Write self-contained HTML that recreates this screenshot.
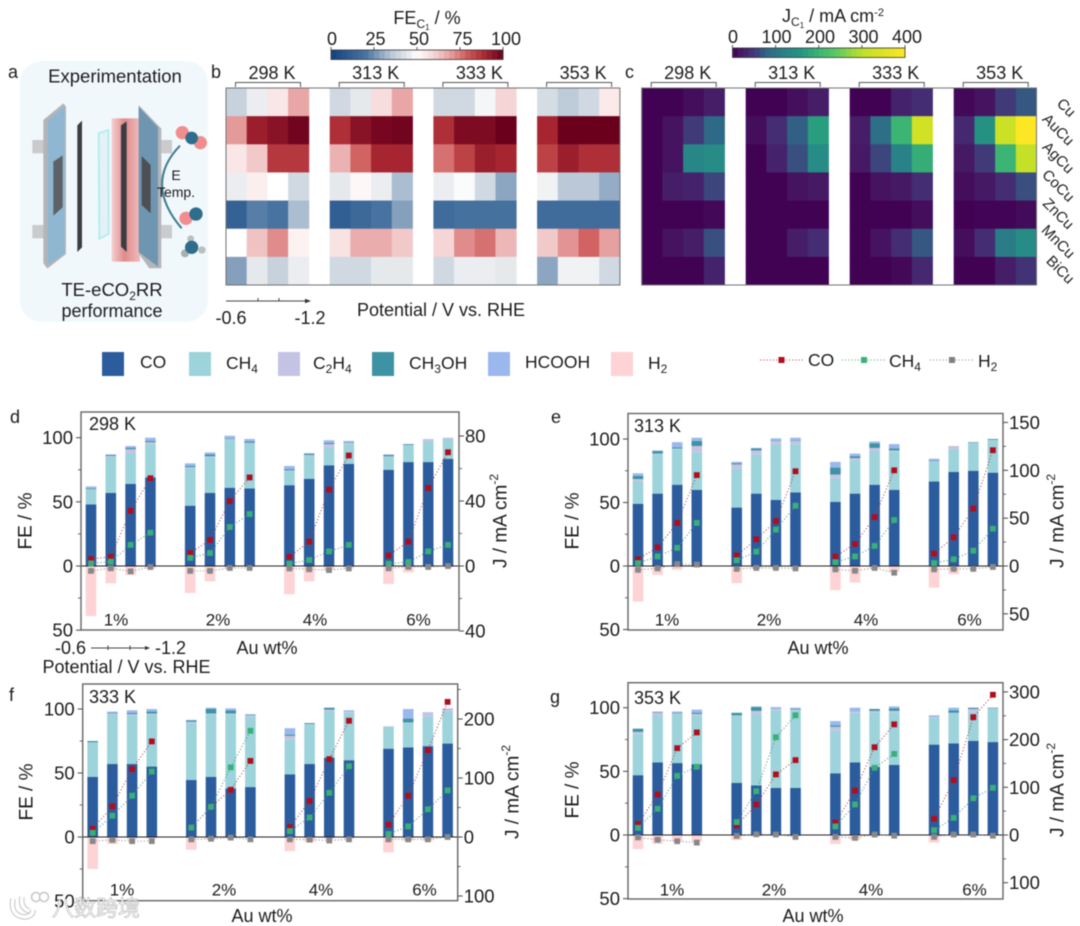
<!DOCTYPE html>
<html lang="en">
<head>
<meta charset="utf-8">
<title>Thermally enhanced CO2 electroreduction figure</title>
<style>
html,body{margin:0;padding:0;background:#fff;width:1080px;height:926px;overflow:hidden}
svg{display:block;font-family:"Liberation Sans","Noto Sans CJK SC",sans-serif;fill:#222;filter:blur(0.45px)}
text{fill:#1c1c1c}
</style>
</head>
<body>
<svg id="fig" xmlns="http://www.w3.org/2000/svg" width="1080" height="926" viewBox="0 0 1080 926">
  <rect x="0" y="0" width="1080" height="926" fill="#fff"/>

  <!-- panel a -->
  <g>
    <rect x="20" y="61" width="188" height="261" rx="22" fill="#f1f8fc"/>
    <g transform="translate(0,50) scale(0.3333)">
      <defs>
        <linearGradient id="glow" x1="0" x2="1" y1="0" y2="0">
          <stop offset="0" stop-color="#f5d0d0"/><stop offset="0.45" stop-color="#df8b8b"/><stop offset="1" stop-color="#f0bcbc"/>
        </linearGradient>
      </defs>
      <rect x="97" y="270" width="36" height="40" fill="#c9cbcd"/>
      <rect x="97" y="525" width="36" height="40" fill="#c9cbcd"/>
      <polygon points="130,210 190,160 198,170 198,612 142,656 130,640" fill="#b3b5b7"/>
      <polygon points="143,212 194,170 194,610 143,645" fill="#8fb7d2"/>
      <polygon points="160,335 188,316 188,472 160,497" fill="#5c6268"/>
      <polygon points="232,226 246,212 246,592 232,606" fill="#3a3d42"/>
      <polygon points="296,250 325,240 326,552 298,566" fill="#e4f1f6" stroke="#b5eef2" stroke-width="6"/>
      <rect x="335" y="205" width="85" height="430" fill="url(#glow)"/>
      <polygon points="363,226 380,214 380,606 363,590" fill="#3a3d42"/>
      <rect x="484" y="270" width="32" height="40" fill="#c9cbcd"/>
      <rect x="484" y="525" width="32" height="40" fill="#c9cbcd"/>
      <polygon points="416,165 484,236 484,655 448,655 416,610" fill="#b3b5b7"/>
      <polygon points="416,170 474,232 474,650 416,606" fill="#6f96b0"/>
      <polygon points="425,318 452,345 452,490 425,465" fill="#4c5055"/>
      <path d="M540,287 Q430,400 545,535" fill="none" stroke="#3f7c94" stroke-width="6"/>
      <g>
        <circle cx="547" cy="248" r="20" fill="#f28d8f"/>
        <circle cx="601" cy="278" r="20" fill="#f28d8f"/>
        <circle cx="575" cy="264" r="19" fill="#2f6d8c"/>
      </g>
      <g>
        <circle cx="558" cy="505" r="20" fill="#f28d8f"/>
        <circle cx="588" cy="492" r="20" fill="#2f6d8c"/>
      </g>
      <g>
        <circle cx="555" cy="610" r="12" fill="#a6b0ae"/>
        <circle cx="606" cy="600" r="11" fill="#b8bfbc"/>
        <circle cx="572" cy="566" r="10" fill="#b8bfbc"/>
        <circle cx="575" cy="592" r="20" fill="#2f6d8c"/>
      </g>
    </g>
    <text x="176" y="175" font-size="14" text-anchor="middle" dominant-baseline="central">E</text>
    <text x="176" y="192" font-size="14" text-anchor="middle" dominant-baseline="central">Temp.</text>
    <text x="115" y="76" font-size="18.5" text-anchor="middle" dominant-baseline="central">Experimentation</text>
    <text x="112" y="296" font-size="18.5" text-anchor="middle">TE-eCO<tspan font-size="12" dy="4">2</tspan><tspan dy="-4">RR</tspan></text>
    <text x="112" y="311" font-size="18" text-anchor="middle" dominant-baseline="central">performance</text>
  </g>

  <text x="8" y="72" font-size="18" dominant-baseline="central">a</text>
  <text x="211" y="72" font-size="18" dominant-baseline="central">b</text>
  <text x="625" y="72" font-size="18" dominant-baseline="central">c</text>
  <text x="10" y="417" font-size="18" dominant-baseline="central">d</text>
  <text x="551" y="417" font-size="18" dominant-baseline="central">e</text>
  <text x="9" y="695" font-size="18" dominant-baseline="central">f</text>
  <text x="550" y="697" font-size="18" dominant-baseline="central">g</text>

  <!-- heatmap titles -->
  <text x="427" y="24" font-size="18" text-anchor="middle">FE<tspan font-size="12" dy="4">C</tspan><tspan font-size="8" dy="2">1</tspan><tspan dy="-6"> / %</tspan></text>
  <text x="833" y="22" font-size="18" text-anchor="middle">J<tspan font-size="12" dy="4">C</tspan><tspan font-size="8" dy="2">1</tspan><tspan dy="-6"> / mA cm</tspan><tspan font-size="11" dy="-6">-2</tspan></text>

  <!-- b axis hint -->
  <g>
    <line x1="226" y1="301" x2="306" y2="301" stroke="#444" stroke-width="1"/>
    <polygon points="305,298.8 311,301 305,303.2" fill="#333"/>
    <line x1="258" y1="298" x2="258" y2="301" stroke="#444"/>
    <line x1="279" y1="298" x2="279" y2="301" stroke="#444"/>
    <text x="231" y="318" font-size="18" text-anchor="middle" dominant-baseline="central">-0.6</text>
    <text x="310" y="318" font-size="18" text-anchor="middle" dominant-baseline="central">-1.2</text>
    <text x="441" y="310" font-size="18" text-anchor="middle" dominant-baseline="central">Potential / V vs. RHE</text>
  </g>

  <!-- legend -->
  <g>
    <g>
      <rect x="102" y="352" width="22" height="24" fill="#2b5c9e"/>
      <text x="140" y="362" font-size="17.5" dominant-baseline="central">CO</text>
    </g>
    <g>
      <rect x="189" y="352" width="22" height="24" fill="#9dd3da"/>
      <text x="226" y="369" font-size="17.5">CH<tspan font-size="12" dy="4">4</tspan></text>
    </g>
    <g>
      <rect x="278" y="352" width="22" height="24" fill="#c5c3e3"/>
      <text x="313" y="369" font-size="17.5">C<tspan font-size="12" dy="4">2</tspan><tspan dy="-4">H</tspan><tspan font-size="12" dy="4">4</tspan></text>
    </g>
    <g>
      <rect x="372" y="352" width="22" height="24" fill="#3d93a3"/>
      <text x="409" y="369" font-size="17.5">CH<tspan font-size="12" dy="4">3</tspan><tspan dy="-4">OH</tspan></text>
    </g>
    <g>
      <rect x="488" y="352" width="22" height="24" fill="#9ab8ee"/>
      <text x="525" y="362" font-size="17.5" dominant-baseline="central">HCOOH</text>
    </g>
    <g>
      <rect x="611" y="352" width="22" height="24" fill="#fdd3d5"/>
      <text x="648" y="369" font-size="17.5">H<tspan font-size="12" dy="4">2</tspan></text>
    </g>
  </g>
  <g>
    <g>
      <line x1="760" y1="360" x2="803" y2="360" stroke="#b53a45" stroke-width="1.1" stroke-dasharray="1 2.2"/>
      <rect x="778.5" y="357" width="6" height="6" fill="#b00d1f"/>
      <text x="808" y="360" font-size="17.5" dominant-baseline="central">CO</text>
    </g>
    <g>
      <line x1="842" y1="360" x2="885" y2="360" stroke="#3aaf7a" stroke-width="1.1" stroke-dasharray="1 2.2"/>
      <rect x="861" y="357" width="6" height="6" fill="#3aaf7a"/>
      <text x="889" y="367" font-size="17.5">CH<tspan font-size="12" dy="4">4</tspan></text>
    </g>
    <g>
      <line x1="930" y1="360" x2="973" y2="360" stroke="#888" stroke-width="1.1" stroke-dasharray="1 2.2"/>
      <rect x="949" y="357" width="6" height="6" fill="#808080"/>
      <text x="978" y="367" font-size="17.5">H<tspan font-size="12" dy="4">2</tspan></text>
    </g>
  </g>

  <g id="heatB"></g>
  <g id="heatC"></g>
  <g id="barD"></g>
  <g id="barE"></g>
  <g id="barF"></g>
  <g id="barG"></g>

  <!-- potential hint under d -->
  <g>
    <text x="70.5" y="648" font-size="18" text-anchor="middle" dominant-baseline="central">-0.6</text>
    <line x1="91" y1="648" x2="146" y2="648" stroke="#444"/>
    <polygon points="145,646 150,648 145,650" fill="#333"/>
    <line x1="108" y1="645.5" x2="108" y2="650" stroke="#444"/>
    <line x1="130" y1="645.5" x2="130" y2="650" stroke="#444"/>
    <text x="170.5" y="648" font-size="18" text-anchor="middle" dominant-baseline="central">-1.2</text>
    <text x="126.5" y="667" font-size="18" text-anchor="middle" dominant-baseline="central">Potential / V vs. RHE</text>
  </g>

  <!-- watermark -->
  <g>
    <path d="M13,899 Q10,916 25,917 Q33,916 33,910 M22,897 Q20,908 29,911" fill="none" stroke="#c4c4c4" stroke-width="5.5"/>
    <path d="M13,899 Q10,916 25,917 Q33,916 33,910 M22,897 Q20,908 29,911" fill="none" stroke="#fff" stroke-width="3.5"/>
    <circle cx="36" cy="897" r="4.5" fill="#fff" stroke="#c8c8c8" stroke-width="1.6"/>
    <circle cx="44" cy="897" r="4.5" fill="#fff" stroke="#c8c8c8" stroke-width="1.6"/>
    <text x="52" y="916" font-size="22" style="fill:#fff;stroke:#bdbdbd;stroke-width:0.7px;font-family:'Noto Sans CJK SC',sans-serif">八数跨境</text>
  </g>
</svg>

<script>
/* ---------- Heatmap b : FE of C1 products (%) ---------- */
const alloyLabels = ["Cu","AuCu","AgCu","CoCu","ZnCu","MnCu","BiCu"];
const temperatureLabels = ["298 K","313 K","333 K","353 K"];
const feTickLabels = ["0","25","50","75","100"];
const jTickLabels = ["0","100","200","300","400"];
const feCu   = [38,46,56,68, 40,45,58,68, 40,40,48,60, 41,36,40,55];
const feAuCu = [70,92,95,99, 88,95,98,99, 88,97,97,100, 90,100,100,100];
const feAgCu = [56,62,86,86, 66,78,90,90, 76,84,92,90, 84,92,88,88];
const feCoCu = [46,54,50,40, 45,52,46,33, 46,49,40,29, 47,35,35,30];
const feZnCu = [13,22,20,33, 12,16,20,28, 17,19,19,19, 17,17,17,17];
const feMnCu = [50,63,72,53, 57,67,67,62, 60,72,76,65, 62,71,78,69];
const feBiCu = [28,45,38,46, 40,40,45,45, 40,46,46,45, 29,47,47,40];

/* ---------- Heatmap c : J of C1 products (mA cm-2) ---------- */
const jCu   = [0,0,10,25, 0,0,12,25, 0,0,30,40, 5,15,50,70];
const jAuCu = [0,15,50,80, 10,40,75,170, 25,90,200,330, 35,150,320,400];
const jAgCu = [0,15,130,140, 0,30,65,140, 20,60,120,190, 20,50,200,310];
const jCoCu = [0,25,30,60, 0,0,15,20, 0,15,20,40, 10,20,40,65];
const jZnCu = [0,0,0,5, 0,0,0,0, 0,0,0,10, 0,2,2,8];
const jMnCu = [0,15,25,65, 0,0,25,40, 0,15,40,70, 10,40,110,140];
const jBiCu = [0,0,0,30, 0,0,0,0, 0,0,5,35, 0,0,25,45];

/* ---------- Panel d : 298 K ---------- */
const dCO    = [48,57,64,69, 47,57,61,60.5, 63,68,78.5,79.5, 75,81,81,83.6];
const dCH4   = [11.5,28,24,26, 29.5,27.5,37.5,35, 11,18,13.5,15.5, 10,13,16,15.4];
const dC2H4  = [0.3,0.8,3,1.5, 0.5,1,0.5,0.5, 0.5,0.5,3,1, 0.5,0.3,1.8,1];
const dCH3OH = [0.7,0.7,1,1, 1,1.5,0.5,1, 1,1,1,0.5, 1,0.7,0,0];
const dHCOOH = [1.5,0.5,1.5,2.5, 2,1.5,2,2, 2.5,0.5,2,1, 0.5,0,0.2,0];
const dH2    = [39,13.5,7,2, 21,12,2,1, 22,12,3,2, 14,5,1,1];
const dJCO   = [4.3,5.7,34,54, 8,16,40,54.5, 5.7,15,47,68, 6.5,15,48,70];
const dJCH4  = [1.6,2.7,13,20.5, 5,8,24,32, 1.4,3.7,9,13, 1.4,2.5,9,13];
const dJH2   = [3,1.4,3.3,0.6, 3,3,1.2,1.2, 1.5,2,2.5,1.5, 1.4,0.6,0.6,0];

/* ---------- Panel e : 313 K ---------- */
const eCO    = [49,57,64,60, 46,57,52,58, 50.5,57,64,60, 66.5,74,75,73.5];
const eCH4   = [18,31,28,29.5, 30.5,31,44,38, 18.5,26,26.5,30, 15.5,18,21.5,25.5];
const eC2H4  = [1.5,0.5,0.5,5, 3.5,3,2.5,2.5, 3,2,2.5,1, 0.5,2.5,0.5,0.3];
const eCH3OH = [2.5,2,1,4, 1,1.5,0.5,0.5, 5.5,1.5,3.5,1.5, 0.5,0,0.5,0.7];
const eHCOOH = [2,0.5,4,2.5, 1,0.5,1.5,2, 4.5,2,1.5,3.5, 1.5,0,0,0];
const eH2    = [28,7,3,1, 13.5,2,1,1, 19,13,2,4.5, 17,6.5,1,0.5];
const eJCO   = [7,19.5,45,95, 11,28,47,99, 10,23,51,100, 13,30,60,121];
const eJCH4  = [3,10,19,45, 6,15,38,63, 4,10,21,48, 3,7,16,39];
const eJH2   = [4,2.5,-2,-1.5, 3,2,2,2.5, 3.5,5,2,7, 3.5,3,3,1];

/* ---------- Panel f : 333 K ---------- */
const fCO    = [47,57,57,55, 44.5,47,38,39, 49,57,62,60, 69,70,71,73];
const fCH4   = [27,39,38,41, 44.5,49,58,55, 27,31,36,37, 17,19,23,25];
const fC2H4  = [0,0.5,1,0.5, 1,0.5,0.5,1, 3,0.3,1.5,1, 0.5,0.5,3,2];
const fCH3OH = [1,0.5,1,1.5, 1,3.5,2.5,0.5, 1,0.7,1.5,0, 0,3,0,0];
const fHCOOH = [0,1,2,2, 0.5,1,1.5,0.5, 5,0,0,1, 0,7.5,0.5,0.5];
const fH2    = [25,5.5,2,1.5, 10,2,1,1, 11,4,1.5,1.5, 12,3,3,0.5];
const fJCO   = [14,52,115,162, 16,51,80,129, 17,61,132,197, 21,70,147,229];
const fJCH4  = [7,36,70,111, 16,51,118,180, 10,33,75,120, 5,18,47,79];
const fJH2   = [7,5,7,7, 4,3,1,4, 4,4.5,6,4, 4,4,4,0];

/* ---------- Panel g : 353 K ---------- */
const gCO    = [47,57,56.5,55.6, 41,39,37,37, 48.5,57,53.5,55, 71,72,74,73];
const gCH4   = [32.5,36.5,38.5,38, 52.5,56,61,61, 33.5,39,43,41.5, 21,23.5,22.5,26];
const gC2H4  = [1.5,2.5,0.5,1.5, 0.5,2.5,1,0.5, 3,1,1,1, 0.5,0.5,2.5,0.5];
const gCH3OH = [2.5,0.5,0.5,1, 2,3,0,0.5, 1,0,1.5,2, 0,2,1,0.5];
const gHCOOH = [0,0.5,1,2.4, 0,0.5,1.5,1, 3.5,3,0,1.5, 1.5,2,0,0];
const gH2    = [11,7,5,5, 4,1,0.5,1, 7,4,1,1, 6,1,1,0.5];
const gJCO   = [23,85,182,215, 20,64,127,157, 26,93,184,232, 34,115,247,294];
const gJCH4  = [15,55,124,143, 27,92,205,251, 18,64,141,170, 10,36,77,99];
const gJH2   = [5,10,13,16, 2,-1.5,-1,4, 4,6,-1,1.5, 4,-1,-1,1.5];

const groupLabels = ["1%","2%","4%","6%"];
const NS = "http://www.w3.org/2000/svg";

function make(parent, tag, attrs, text){
  const el = document.createElementNS(NS, tag);
  for (const k in attrs) el.setAttribute(k, attrs[k]);
  if (text !== undefined) el.textContent = text;
  parent.appendChild(el);
  return el;
}
function lerpStops(stops, t){
  t = Math.max(0, Math.min(1, t));
  for (let i = 1; i < stops.length; i++){
    if (t <= stops[i][0]){
      const a = stops[i-1], b = stops[i], f = (t - a[0]) / (b[0] - a[0]);
      return "rgb(" + [1,2,3].map(c => Math.round(a[c] + (b[c]-a[c]) * f)).join(",") + ")";
    }
  }
  const l = stops[stops.length-1];
  return "rgb(" + l[1] + "," + l[2] + "," + l[3] + ")";
}
const redBlue = [[0,18,66,127],[0.2,72,115,160],[0.35,186,200,215],[0.45,230,233,236],[0.5,255,255,255],[0.6,245,213,213],[0.7,229,154,154],[0.8,204,85,85],[0.9,166,37,48],[1,107,0,28]];
const viridis = [[0,66,2,84],[0.05,70,25,100],[0.1,68,45,115],[0.15,60,70,125],[0.2,46,105,135],[0.3,40,130,135],[0.4,35,150,130],[0.5,60,180,115],[0.6,90,200,100],[0.75,190,225,40],[0.85,215,225,35],[1,253,231,37]];

function drawHeatmap(g, rows, maxValue, stops, left, groupGap){
  const top = 88, rowH = 197 / 7, cellW = 20.7;
  const xCell = c => left + Math.floor(c / 4) * groupGap + (c % 4) * cellW;
  rows.forEach((row, r) => {
    row.forEach((v, c) => {
      const cell = make(g, "rect", {x: xCell(c), y: top + r * rowH, width: cellW + 0.4, height: rowH + 0.4, fill: lerpStops(stops, v / maxValue)});
      
      
    });
  });
  const right = xCell(15) + cellW;
  const frame = make(g, "rect", {x: left, y: top, width: right - left, height: 197, fill: "none", stroke: "#6f7175", "stroke-width": 1});
  
  
  temperatureLabels.forEach((label, i) => {
    const x0 = xCell(i * 4) + 9.5, x1 = x0 + 65;
    const br = make(g, "path", {d: "M" + x0 + ",87 V82.5 H" + x1 + " V87", fill: "none", stroke: "#555", "stroke-width": 1});
    
    
    const t = make(g, "text", {x: (x0 + x1) / 2 + 4, y: 73, "font-size": 18, "text-anchor": "middle", "dominant-baseline": "central"}, label);
    
    
  });
}
function drawColorbar(g, x0, x1, y, h, stops, labels, labelY, labelXs){
  const steps = 32, w = (x1 - x0) / steps;
  for (let i = 0; i < steps; i++){
    const s = make(g, "rect", {x: x0 + i * w, y: y, width: w + 0.4, height: h, fill: lerpStops(stops, (i + 0.5) / steps)});
    
    
  }
  const fr = make(g, "rect", {x: x0, y: y, width: x1 - x0, height: h, fill: "none", stroke: "#333", "stroke-width": 0.8});
  
  
  labels.forEach((label, i) => {
    const x = x0 + (x1 - x0) * i / (labels.length - 1);
    const tk = make(g, "line", {x1: x, x2: x, y1: y - 3, y2: y, stroke: "#333", "stroke-width": 0.8});
    
    
    const t = make(g, "text", {x: labelXs(i), y: labelY, "font-size": 18, "text-anchor": "middle", "dominant-baseline": "central"}, label);
    
    
  });
}

const heatB = document.getElementById("heatB");
const heatC = document.getElementById("heatC");
drawHeatmap(heatB, [feCu,feAuCu,feAgCu,feCoCu,feZnCu,feMnCu,feBiCu], 100, redBlue, 226, 103.7);
drawHeatmap(heatC, [jCu,jAuCu,jAgCu,jCoCu,jZnCu,jMnCu,jBiCu], 400, viridis, 641.7, 104);
drawColorbar(heatB, 331, 503, 50, 9.5, redBlue, feTickLabels, 39, i => 332 + i * 43.5);
drawColorbar(heatC, 732.5, 905, 48, 9.5, viridis, jTickLabels, 37, i => 733 + i * 43.5);
alloyLabels.forEach((label, r) => {
  const cx = r === 0 ? 1066 : (r === 6 ? 1060 : 1058);
  const cy = r === 0 ? 108 : 130 + (r - 1) * 28;
  const t = make(heatC, "text", {x: cx, y: cy, "font-size": 15, "text-anchor": "middle", "dominant-baseline": "central", transform: "rotate(45 " + cx + " " + cy + ")"}, label);
  
  
});

/* ---------- stacked-bar panels ---------- */
const stackColors = ["#2b5c9e","#9dd3da","#c5c3e3","#3d93a3","#9ab8ee"];

function drawPanel(g, cfg){
  const yFE = v => cfg.zero - v * cfg.fePx;
  const yJ = v => cfg.zero - v * cfg.jPx;
  const xBar = i => cfg.x0 + Math.floor(i / 4) * cfg.groupStep + (i % 4) * cfg.barStep;
  const barW = 10.6;
  const labelOffsets = [0, 102, 199, 302.5];

  cfg.stacks[0].forEach((_, i) => {
    let base = 0;
    cfg.stacks.forEach((series, s) => {
      const v = series[i];
      if (v <= 0) return;
      const seg = make(g, "rect", {x: xBar(i) - barW / 2, y: yFE(base + v), width: barW, height: v * cfg.fePx, fill: stackColors[s]});
      
      
      base += v;
    });
    const h2 = make(g, "rect", {x: xBar(i) - barW / 2, y: cfg.zero, width: barW, height: cfg.h2[i] * cfg.fePx, fill: "#fdd3d5"});
    
    
  });

  const zeroLine = make(g, "line", {x1: cfg.left, x2: cfg.right, y1: cfg.zero, y2: cfg.zero, stroke: "#222", "stroke-width": 1.1});
  
  

  const frame = make(g, "rect", {x: cfg.left, y: cfg.top, width: cfg.right - cfg.left, height: cfg.bottom - cfg.top, fill: "none", stroke: "#666", "stroke-width": 1.4});
  
  

  const lineSets = [
    {vals: cfg.jCO, color: "#b00d1f", lineColor: "#a8404c", sign: 1},
    {vals: cfg.jCH4, color: "#3aaf7a", lineColor: "#4a9a78", sign: 1},
    {vals: cfg.jH2, color: "#888888", lineColor: "#8a8a8a", sign: -1}
  ];
  lineSets.forEach(set => {
    for (let gi = 0; gi < 4; gi++){
      const pts = [0,1,2,3].map(b => xBar(gi * 4 + b) + "," + yJ(set.sign * set.vals[gi * 4 + b])).join(" ");
      const line = make(g, "polyline", {points: pts, fill: "none", stroke: set.lineColor, "stroke-width": 1.1, "stroke-dasharray": "1 2.2"});
      
      
    }
    set.vals.forEach((v, i) => {
      const m = make(g, "rect", {x: xBar(i) - 2.9, y: yJ(set.sign * v) - 2.9, width: 5.8, height: 5.8, fill: set.color});
      
      
    });
  });

  cfg.leftTicks.forEach(v => {
    const tk = make(g, "line", {x1: cfg.left - 5, x2: cfg.left, y1: yFE(v), y2: yFE(v), stroke: "#555", "stroke-width": 1.1});
    
    
    const t = make(g, "text", {x: cfg.left - 8, y: yFE(v), "font-size": 18.5, "text-anchor": "end", "dominant-baseline": "central"}, String(Math.abs(v)));
    
    
  });
  cfg.leftMinor.forEach(v => {
    const tk = make(g, "line", {x1: cfg.left - 3, x2: cfg.left, y1: yFE(v), y2: yFE(v), stroke: "#555", "stroke-width": 0.9});
    
    
  });
  cfg.rightTicks.forEach(v => {
    const tk = make(g, "line", {x1: cfg.right, x2: cfg.right + 5, y1: yJ(v), y2: yJ(v), stroke: "#555", "stroke-width": 1.1});
    
    
    const t = make(g, "text", {x: cfg.right + 6, y: yJ(v), "font-size": 18.5, "dominant-baseline": "central"}, String(Math.abs(v)));
    
    
  });
  cfg.rightMinor.forEach(v => {
    const tk = make(g, "line", {x1: cfg.right, x2: cfg.right + 3, y1: yJ(v), y2: yJ(v), stroke: "#555", "stroke-width": 0.9});
    
    
  });

  const tempLabel = make(g, "text", {x: cfg.tempX, y: cfg.tempY, "font-size": 18, "dominant-baseline": "central"}, cfg.temp);
  
  

  groupLabels.forEach((label, i) => {
    const t = make(g, "text", {x: cfg.groupX + labelOffsets[i], y: cfg.groupY, "font-size": 17, "text-anchor": "middle", "dominant-baseline": "central"}, label);
    
    
  });

  const xTitle = make(g, "text", {x: cfg.xTitleX, y: cfg.xTitleY, "font-size": 18, "text-anchor": "middle", "dominant-baseline": "central"}, "Au wt%");
  
  

  const feTitle = make(g, "text", {x: cfg.feX, y: cfg.feY, "font-size": 19, "text-anchor": "middle", "dominant-baseline": "central", transform: "rotate(-90 " + cfg.feX + " " + cfg.feY + ")"}, "FE / %");
  
  

  const jTitle = make(g, "text", {x: cfg.jX, y: cfg.feY, "font-size": 19, "text-anchor": "middle", "dominant-baseline": "central", transform: "rotate(-90 " + cfg.jX + " " + cfg.feY + ")"}, "J / mA cm");
  
  
  const sup = make(jTitle, "tspan", {"font-size": 12, dy: -7}, "-2");
  
  
}

drawPanel(document.getElementById("barD"), {
  left: 81, right: 459, top: 412, bottom: 630, zero: 566, fePx: 1.283, jPx: 1.625,
  x0: 91, groupStep: 99.2, barStep: 19.8,
  stacks: [dCO,dCH4,dC2H4,dCH3OH,dHCOOH], h2: dH2, jCO: dJCO, jCH4: dJCH4, jH2: dJH2,
  leftTicks: [100,50,0,-50], leftMinor: [75,25,-25],
  rightTicks: [80,40,0,-40], rightMinor: [60,20,-20],
  temp: "298 K", tempX: 89, tempY: 424, groupX: 116, groupY: 620,
  xTitleX: 267, xTitleY: 648, feX: 26, feY: 521, jX: 501
});
drawPanel(document.getElementById("barE"), {
  left: 628, right: 1003, top: 413.5, bottom: 630, zero: 566, fePx: 1.27, jPx: 0.957,
  x0: 638, groupStep: 98.7, barStep: 19.6,
  stacks: [eCO,eCH4,eC2H4,eCH3OH,eHCOOH], h2: eH2, jCO: eJCO, jCH4: eJCH4, jH2: eJH2,
  leftTicks: [100,50,0,-50], leftMinor: [75,25,-25],
  rightTicks: [150,100,50,0,-50], rightMinor: [125,75,25,-25],
  temp: "313 K", tempX: 634, tempY: 426, groupX: 667, groupY: 620,
  xTitleX: 818, xTitleY: 648, feX: 573, feY: 521, jX: 1058
});
drawPanel(document.getElementById("barF"), {
  left: 82.7, right: 457.7, top: 684, bottom: 900.7, zero: 837, fePx: 1.28, jPx: 0.59,
  x0: 92.7, groupStep: 98.6, barStep: 19.7,
  stacks: [fCO,fCH4,fC2H4,fCH3OH,fHCOOH], h2: fH2, jCO: fJCO, jCH4: fJCH4, jH2: fJH2,
  leftTicks: [100,50,0,-50], leftMinor: [75,25,-25],
  rightTicks: [200,100,0,-100], rightMinor: [250,150,50,-50],
  temp: "333 K", tempX: 89, tempY: 697, groupX: 122, groupY: 890,
  xTitleX: 262, xTitleY: 916, feX: 27, feY: 792, jX: 513
});
drawPanel(document.getElementById("barG"), {
  left: 628, right: 1003, top: 682.7, bottom: 899, zero: 835, fePx: 1.273, jPx: 0.477,
  x0: 638, groupStep: 98.7, barStep: 19.6,
  stacks: [gCO,gCH4,gC2H4,gCH3OH,gHCOOH], h2: gH2, jCO: gJCO, jCH4: gJCH4, jH2: gJH2,
  leftTicks: [100,50,0,-50], leftMinor: [75,25,-25],
  rightTicks: [300,200,100,0,-100], rightMinor: [250,150,50,-50],
  temp: "353 K", tempX: 634, tempY: 698, groupX: 672, groupY: 890,
  xTitleX: 813, xTitleY: 916, feX: 573, feY: 790, jX: 1058
});
</script>
</body>
</html>
